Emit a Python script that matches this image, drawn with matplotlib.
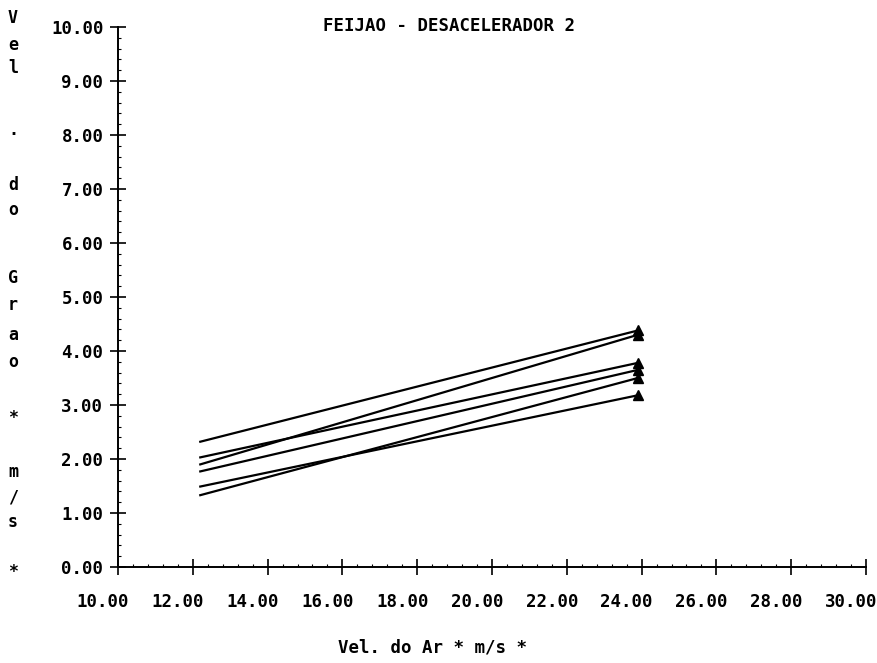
import matplotlib
matplotlib.use("Agg")
import matplotlib.pyplot as plt
from matplotlib.ticker import MultipleLocator, FixedLocator, FormatStrFormatter
from matplotlib.transforms import ScaledTranslation

# Grain velocity vs. air velocity, one fitted line per run
x_start = 12.2
x_end = 23.9
y_start = [2.32, 2.03, 1.90, 1.77, 1.49, 1.33]
y_end = [4.38, 3.78, 4.30, 3.65, 3.18, 3.50]

x_ticks = [10, 12, 14, 16, 18, 20, 22, 24, 26, 28, 30]
y_ticks = [0, 1, 2, 3, 4, 5, 6, 7, 8, 9, 10]

title = "FEIJAO - DESACELERADOR 2"
x_label = "Vel. do Ar * m/s *"
y_label = "Vel. do Grao * m/s *"

FONT = "DejaVu Sans Mono"
W, H = 878, 663

fig = plt.figure(figsize=(W / 100, H / 100), dpi=100)
ax = fig.add_axes([118 / W, (H - 567) / H, 748 / W, 540 / H])

for y0, y1 in zip(y_start, y_end):
    ax.plot([x_start, x_end], [y0, y1], color="black", lw=1.6,
            marker="^", markevery=[1], markersize=7, clip_on=False)

ax.set_xlim(10, 30)
ax.set_ylim(0, 10)
ax.spines["top"].set_visible(False)
ax.spines["right"].set_visible(False)
for s in ("left", "bottom"):
    ax.spines[s].set_linewidth(1.4)

ax.xaxis.set_major_locator(FixedLocator(x_ticks))
ax.yaxis.set_major_locator(FixedLocator(y_ticks))
ax.xaxis.set_minor_locator(MultipleLocator(0.4))
ax.yaxis.set_minor_locator(MultipleLocator(0.2))
ax.xaxis.set_major_formatter(FormatStrFormatter("%.2f"))
ax.yaxis.set_major_formatter(FormatStrFormatter("%.2f"))

ax.tick_params(which="major", direction="inout", length=11, width=1.2,
               labelsize=12.5)
ax.tick_params(which="minor", direction="in", length=2, width=0.8)
ax.tick_params(axis="x", which="major", pad=13)
ax.tick_params(axis="y", which="major", pad=5)

for lab in ax.get_xticklabels() + ax.get_yticklabels():
    lab.set_family(FONT)
    lab.set_fontweight("bold")
for lab in ax.get_xticklabels():
    lab.set_transform(lab.get_transform() +
                      ScaledTranslation(-0.15, 0, fig.dpi_scale_trans))

fig.text(449 / W, 1 - 26 / H, title, ha="center", va="center",
         family=FONT, fontweight="bold", fontsize=12.5)
fig.text(433 / W, 1 - 647 / H, x_label, ha="center", va="center",
         family=FONT, fontweight="bold", fontsize=12.5)

# vertical stacked axis title, one character per row
y_rows = [18, 45, 68, 130, None, 185, 210, None, 278, 305, 335, 362, None,
          418, None, 472, 497, 522, None, 572]
for ch, yp in zip(y_label, y_rows):
    if ch == " " or yp is None:
        continue
    fig.text(13 / W, 1 - yp / H, ch, ha="center", va="center",
             family=FONT, fontweight="bold", fontsize=12)

fig.savefig("out.png", dpi=100, facecolor="white")
